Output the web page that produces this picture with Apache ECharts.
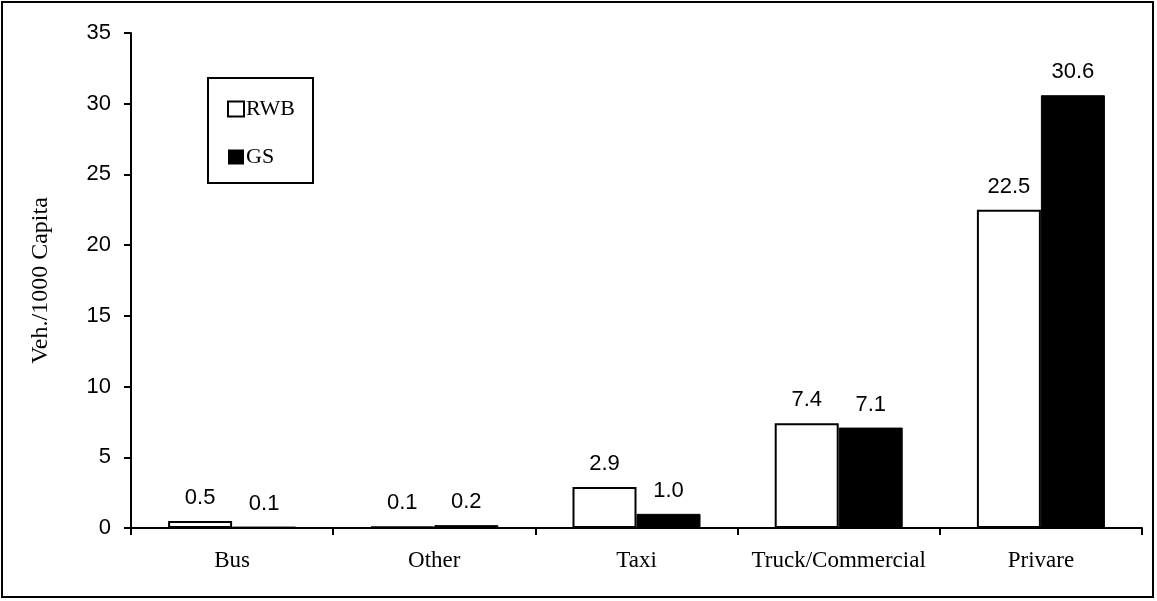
<!DOCTYPE html>
<html><head><meta charset="utf-8">
<script src="https://cdn.jsdelivr.net/npm/echarts@6/dist/echarts.min.js"></script>
<style>html,body{margin:0;padding:0;background:#fff}#c{width:1157px;height:601px}</style>
</head><body><div id="c"></div>
<script>
const categories = ['Bus', 'Other', 'Taxi', 'Truck/Commercial', 'Privare'];
const rwbValues = [0.5, 0.1, 2.9, 7.4, 22.5];
const gsValues = [0.1, 0.2, 1.0, 7.1, 30.6];
const seriesNames = ['RWB', 'GS'];
const yTicks = { min: 0, max: 35, interval: 5 };

const chart = echarts.init(document.getElementById('c'), null, { renderer: 'canvas' });
const serif = 'Liberation Serif, Times New Roman, serif';
const sans = 'Liberation Sans, Arial, sans-serif';
const labelStyle = {
  show: true, position: 'top', distance: 12,
  fontFamily: sans, fontSize: 22, color: '#000',
  formatter: p => p.value.toFixed(1)
};
chart.setOption({
  animation: false,
  backgroundColor: '#fff',
  graphic: [{
    type: 'rect', shape: { x: 2, y: 2, width: 1151, height: 595 },
    style: { fill: 'none', stroke: '#000', lineWidth: 2 }, silent: true
  }, {
    type: 'rect', shape: { x: 208, y: 78, width: 105, height: 105 },
    style: { fill: '#fff', stroke: '#000', lineWidth: 2 }, z: 0, silent: true
  }],
  grid: { left: 131, right: 15, top: 33, bottom: 73, containLabel: false },
  legend: {
    left: 222, top: 93, orient: 'vertical', itemGap: 26,
    itemWidth: 16, itemHeight: 15,
    textStyle: { fontFamily: serif, fontSize: 22, color: '#000', padding: [0, 0, 0, -3] },
    data: [
      { name: seriesNames[0], icon: 'rect', itemStyle: { color: '#fff', borderColor: '#000', borderWidth: 2 } },
      { name: seriesNames[1], icon: 'rect', itemStyle: { color: '#000', borderColor: '#000', borderWidth: 0 } }
    ]
  },
  xAxis: {
    type: 'category', data: categories,
    axisLine: { lineStyle: { color: '#000', width: 2 } },
    axisTick: { show: true, interval: 0, length: 7, lineStyle: { color: '#000', width: 2 }, alignWithLabel: false },
    axisLabel: { interval: 0, hideOverlap: false, fontFamily: serif, fontSize: 23, color: '#000', margin: 21 },
    splitLine: { show: false }
  },
  yAxis: {
    type: 'value', min: yTicks.min, max: yTicks.max, interval: yTicks.interval,
    name: 'Veh./1000 Capita', nameLocation: 'middle', nameGap: 78, nameRotate: 90,
    nameTextStyle: { fontFamily: serif, fontSize: 24, color: '#000' },
    axisLine: { show: true, lineStyle: { color: '#000', width: 2 } },
    axisTick: { show: true, length: 7, lineStyle: { color: '#000', width: 2 } },
    axisLabel: { fontFamily: sans, fontSize: 22, color: '#000', margin: 20 },
    splitLine: { show: false }
  },
  series: [{
    name: seriesNames[0], type: 'bar', data: rwbValues,
    barWidth: 64, barGap: '0%',
    itemStyle: { color: '#fff', borderColor: '#000', borderWidth: 2 },
    label: labelStyle
  }, {
    name: seriesNames[1], type: 'bar', data: gsValues,
    barWidth: 64, barGap: '0%',
    itemStyle: { color: '#000', borderColor: '#000', borderWidth: 1 },
    label: labelStyle
  }]
});
</script></body></html>
